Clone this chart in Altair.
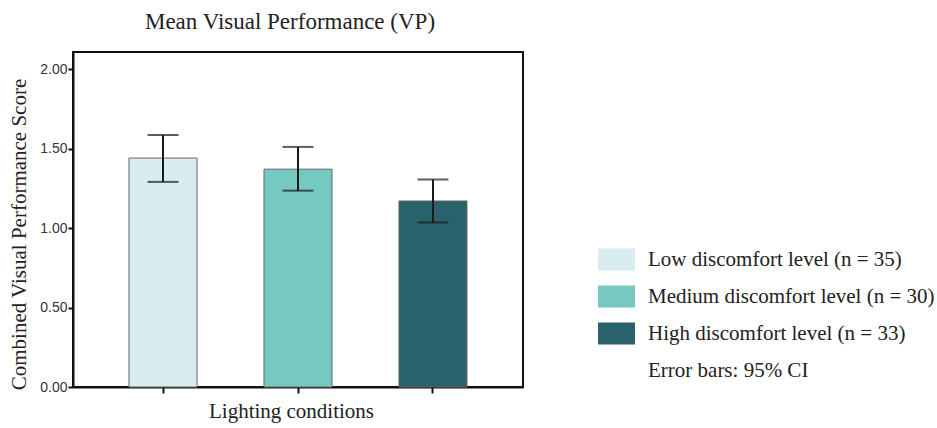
import altair as alt
import pandas as pd

categories = ["Low discomfort level (n = 35)",
              "Medium discomfort level (n = 30)",
              "High discomfort level (n = 33)"]
means = [1.44, 1.37, 1.17]
ci_low = [1.29, 1.235, 1.035]
ci_high = [1.585, 1.51, 1.305]
colors = ["#d9ecf0", "#75c9c1", "#2a626b"]
note = "Error bars: 95% CI"

df = pd.DataFrame({"group": categories, "mean": means, "lo": ci_low, "hi": ci_high})

serif = "Liberation Serif"
sans = "Liberation Sans"

x = alt.X("group:N", sort=categories,
          scale=alt.Scale(paddingInner=0.496, paddingOuter=0.415),
          axis=alt.Axis(labels=False, title="Lighting conditions", ticks=True,
                        tickSize=6, tickWidth=2, tickColor="#111",
                        domainColor="#111", domainWidth=2,
                        titleFont=serif, titleFontSize=21, titleFontWeight="normal",
                        titleColor="#222", titlePadding=6, titleX=218))

yscale = alt.Scale(domain=[0, 2.107], nice=False)

bars = alt.Chart(df).mark_bar(stroke="#666", strokeWidth=1).encode(
    x=x,
    y=alt.Y("mean:Q", scale=yscale,
            axis=alt.Axis(values=[0, 0.5, 1.0, 1.5, 2.0], format=".2f", grid=False,
                          title="Combined Visual Performance Score",
                          tickSize=5, tickWidth=2, tickColor="#111",
                          domainColor="#111", domainWidth=2,
                          labelFont=sans, labelFontSize=14, labelColor="#333",
                          labelPadding=1,
                          titleFont=serif, titleFontSize=21, titleFontWeight="normal",
                          titleColor="#222", titlePadding=10, titleY=182)),
    color=alt.Color("group:N",
                    scale=alt.Scale(domain=categories + [note],
                                    range=colors + ["rgba(0,0,0,0)"]),
                    legend=alt.Legend(title=None, orient="none", legendX=525, legendY=189,
                                      symbolType="M-1,-0.595H1V0.595H-1Z",
                                      symbolSize=1369, symbolStrokeWidth=0,
                                      symbolOpacity=1,
                                      labelFont=serif, labelFontSize=21,
                                      labelColor="#222", labelOffset=13,
                                      labelLimit=400, rowPadding=7, padding=0)),
)

rule = alt.Chart(df).mark_rule(color="#1a1a1a", strokeWidth=2).encode(
    x=alt.X("group:N", sort=categories), y=alt.Y("lo:Q", scale=yscale), y2="hi:Q")

cap_lo = alt.Chart(df).mark_tick(color="#1a1a1a", thickness=2, size=31).encode(
    x=alt.X("group:N", sort=categories), y=alt.Y("lo:Q", scale=yscale))
cap_hi = alt.Chart(df).mark_tick(color="#1a1a1a", thickness=2, size=31).encode(
    x=alt.X("group:N", sort=categories), y=alt.Y("hi:Q", scale=yscale))

chart = alt.layer(bars, rule, cap_lo, cap_hi).properties(
    width=450, height=335,
    title=alt.Title("Mean Visual Performance (VP)", font=serif, fontSize=23,
                    fontWeight="normal", color="#222", anchor="middle", offset=18, dx=-8),
    autosize=alt.AutoSizeParams(type="none"),
    padding={"left": 73, "top": 52, "right": 414, "bottom": 41},
).configure(background="white").configure_view(stroke="#111", strokeWidth=2)

chart.save("out.html", embed_options={"renderer": "svg", "actions": False})
